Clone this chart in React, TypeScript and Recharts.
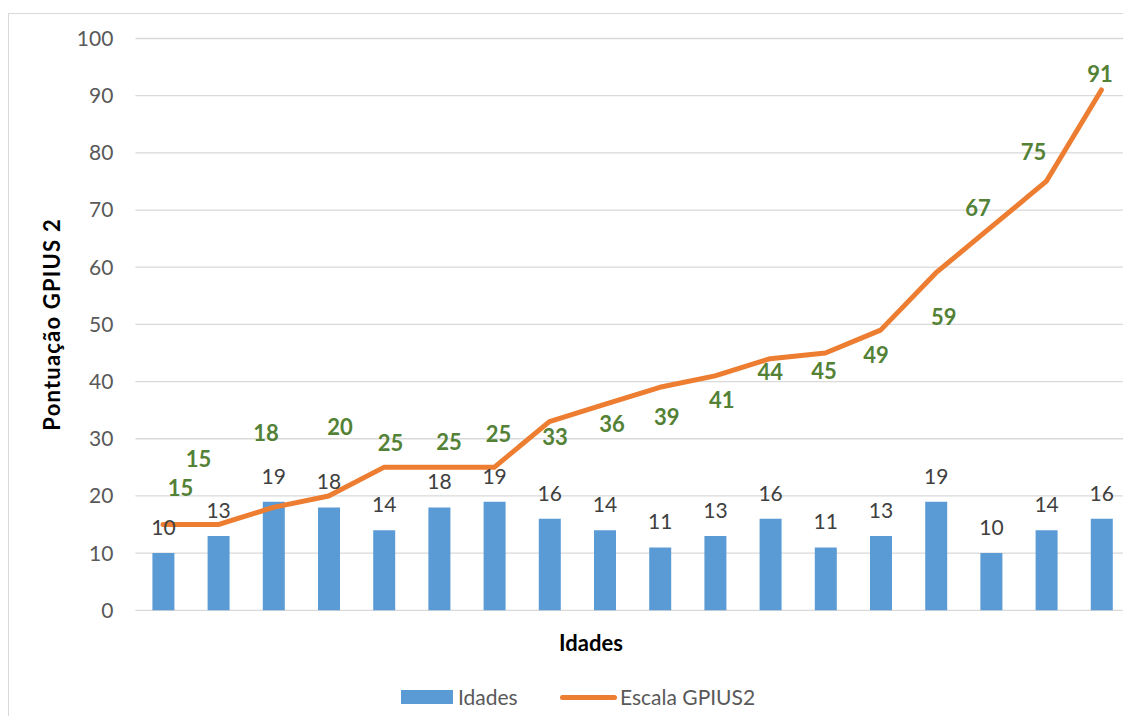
import React from 'react';
import { ComposedChart, Bar, Line, XAxis, YAxis, CartesianGrid, LabelList, Legend } from 'recharts';

const categories = ['1', '2', '3', '4', '5', '6', '7', '8', '9', '10', '11', '12', '13', '14', '15', '16', '17', '18'];
const idades = [10, 13, 19, 18, 14, 18, 19, 16, 14, 11, 13, 16, 11, 13, 19, 10, 14, 16];
const gpius = [15, 15, 18, 20, 25, 25, 25, 33, 36, 39, 41, 44, 45, 49, 59, 67, 75, 91];
const yTicks = [0, 10, 20, 30, 40, 50, 60, 70, 80, 90, 100];

// label placement offsets (styling) relative to each line point
const gpiusLabelDx = [17.5, -19.7, -7.4, 11.4, 6.7, 10, 4.3, 5.6, 7.4, 7, 6.8, 0, -1.4, -4.6, 8, -13, -12.7, -1.4];
const gpiusLabelDy = [-36.5, -65.5, -74, -68.4, -24, -25, -33, 15.4, 19.5, 29.7, 24, 13, 18, 25, 44, -19, -29, -15.5];

const data = categories.map((c, i) => ({ cat: c, idades: idades[i], gpius: gpius[i] }));

const FONT = "Lato, 'Open Sans', sans-serif";
const BLUE = '#5B9BD5';
const ORANGE = '#ED7D31';
const GREEN = '#538135';

const GpiusLabel = (props: any) => {
  const { x, y, value, index } = props;
  return (
    <text
      x={x + gpiusLabelDx[index]}
      y={y + gpiusLabelDy[index]}
      dy="0.36em"
      textAnchor="middle"
      fill={GREEN}
      fontFamily={FONT}
      fontWeight="bold"
      fontSize={22}
    >
      {value}
    </text>
  );
};

const LegendContent = () => (
  <div style={{ position: 'relative', height: 0, fontFamily: FONT, fontSize: 21, color: '#595959' }}>
    <div style={{ position: 'absolute', left: 392.7, top: 682, width: 52, height: 13.7, background: BLUE }} />
    <div style={{ position: 'absolute', left: 450, top: 677, height: 24, lineHeight: '24px', whiteSpace: 'nowrap' }}>Idades</div>
    <div style={{ position: 'absolute', left: 552, top: 686.5, width: 57, height: 5, borderRadius: 2.5, background: ORANGE }} />
    <div style={{ position: 'absolute', left: 612, top: 677, height: 24, lineHeight: '24px', whiteSpace: 'nowrap' }}>Escala GPIUS2</div>
  </div>
);

export default function App() {
  return (
    <div
      style={{
        position: 'fixed',
        left: 8,
        top: 8,
        width: 1115,
        height: 708,
        overflow: 'hidden',
        background: '#fff',
      }}
    >
      <style>{'html, body { overflow: hidden; }'}</style>
      <div
        style={{
          position: 'absolute',
          left: 0,
          top: 5,
          width: 1300,
          height: 900,
          borderLeft: '1.5px solid #d9d9d9',
          borderTop: '1.5px solid #d9d9d9',
          boxSizing: 'border-box',
        }}
      />
      <div style={{ position: 'absolute', left: 0, top: 0 }}>
        <ComposedChart
          width={1140}
          height={708}
          data={data}
          margin={{ top: 30.5, right: 19, bottom: 65.7, left: 0 }}
        >
          <CartesianGrid vertical={false} stroke="#d9d9d9" strokeWidth={1.3} />
          <XAxis
            dataKey="cat"
            tick={false}
            tickLine={false}
            axisLine={false}
            height={40}
            label={{
              content: () => (
                <text x={583} y={635.5} dy="0.36em" textAnchor="middle" fontFamily={FONT} fontWeight="bold" fontSize={22} fill="#000">
                  Idades
                </text>
              ),
            }}
          />
          <YAxis
            width={127.4}
            domain={[0, 100]}
            ticks={yTicks}
            tickLine={false}
            axisLine={false}
            tickSize={0}
            tickMargin={22}
            tick={{ fill: '#595959', fontFamily: FONT, fontSize: 21 }}
            label={{
              content: () => (
                <text
                  x={52}
                  y={316.4}
                  transform="rotate(-90, 52, 316.4)"
                  textAnchor="middle"
                  fontFamily={FONT}
                  fontWeight="bold"
                  fontSize={22}
                  letterSpacing={1.2}
                  fill="#000"
                >
                  Pontuação GPIUS 2
                </text>
              ),
            }}
          />
          <Legend
            content={LegendContent}
            wrapperStyle={{ position: 'absolute', left: 0, top: 0, width: 1140, height: 0 }}
          />
          <Bar dataKey="idades" name="Idades" fill={BLUE} barSize={22} isAnimationActive={false}>
            <LabelList dataKey="idades" position="top" offset={18} fill="#404040" fontFamily={FONT} fontSize={21} />
          </Bar>
          <Line
            dataKey="gpius"
            name="Escala GPIUS2"
            type="linear"
            stroke={ORANGE}
            strokeWidth={5}
            strokeLinejoin="round"
            strokeLinecap="round"
            dot={false}
            activeDot={false}
            isAnimationActive={false}
          >
            <LabelList dataKey="gpius" content={GpiusLabel} />
          </Line>
        </ComposedChart>
      </div>
    </div>
  );
}
